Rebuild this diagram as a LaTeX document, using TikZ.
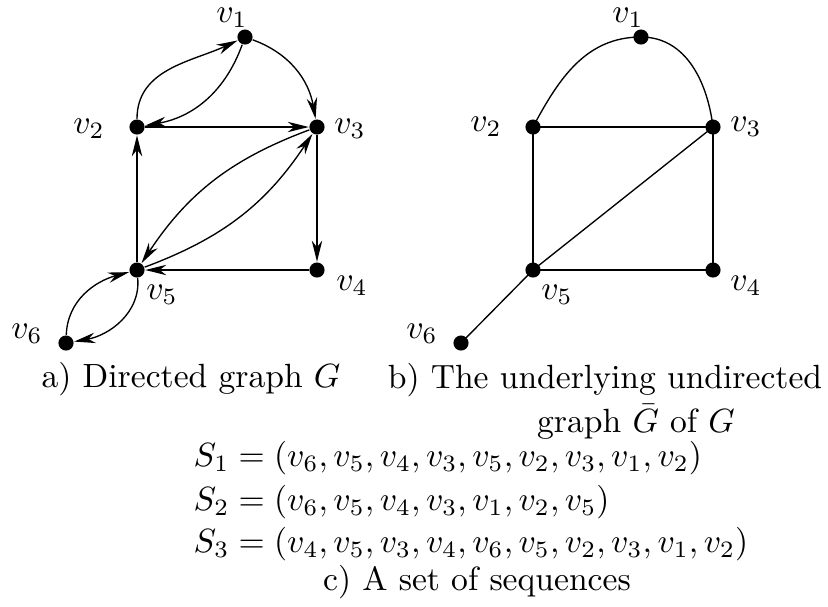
\documentclass[tikz,border=0pt]{standalone}
\usetikzlibrary{arrows.meta}
\begin{document}
\begin{tikzpicture}[x=0.2976pt,y=-0.2976pt,
  dot/.style={circle,fill=black,inner sep=0pt,minimum size=4.5pt},
  lbl/.style={inner sep=0pt},
  arr/.style={-{Stealth[length=6.3pt,width=3.1pt,inset=2pt]},line width=0.4pt},
  edge/.style={line width=0.4pt},
  txt/.style={inner sep=0pt,anchor=base}]
\useasboundingbox (0,0) rectangle (828,606);
% left graph
\node[dot] (a1) at (245,37) {};
\node[dot] (a2) at (137,127) {};
\node[dot] (a3) at (317,127) {};
\node[dot] (a4) at (317,270) {};
\node[dot] (a5) at (137,270) {};
\node[dot] (a6) at (66,343) {};
\node[lbl] (la1) at (232,18) {$v_1$};
\node[lbl] (la2) at (89,129) {$v_2$};
\node[lbl] (la3) at (350,129) {$v_3$};
\node[lbl] (la4) at (352,286) {$v_4$};
\node[lbl] (la5) at (162,295) {$v_5$};
\node[lbl] (la6) at (27,334) {$v_6$};
\draw[arr] (a2) to[out=90,in=205] (a1);
\draw[arr] (a1) to[out=250,in=10] (a2);
\draw[arr] (a1) to[out=-20,in=100] (a3);
\draw[arr] (a2) -- (a3);
\draw[arr] (a3) -- (a4);
\draw[arr] (a4) -- (a5);
\draw[arr] (a5) -- (a2);
\draw[arr] (a3) to[bend right=18] (a5);
\draw[arr] (a5) to[bend right=18] (a3);
\draw[arr] (a6) to[out=88,in=195] (a5);
\draw[arr] (a5) to[out=-85,in=10] (a6);
% right graph
\node[dot] (b1) at (641,37) {};
\node[dot] (b2) at (533,127) {};
\node[dot] (b3) at (713,127) {};
\node[dot] (b4) at (713,270) {};
\node[dot] (b5) at (533,270) {};
\node[dot] (b6) at (461,343) {};
\node[lbl] (lb1) at (628,18) {$v_1$};
\node[lbl] (lb2) at (486,127) {$v_2$};
\node[lbl] (lb3) at (746,127) {$v_3$};
\node[lbl] (lb4) at (746,286) {$v_4$};
\node[lbl] (lb5) at (557,295) {$v_5$};
\node[lbl] (lb6) at (422,334) {$v_6$};
\draw[edge] (b2.center) to[out=62,in=180] (b1.center);
\draw[edge] (b1.center) to[out=0,in=97] (b3.center);
\draw[edge] (b2.center) -- (b3.center);
\draw[edge] (b2.center) -- (b5.center);
\draw[edge] (b3.center) -- (b4.center);
\draw[edge] (b4.center) -- (b5.center);
\draw[edge] (b5.center) -- (b3.center);
\draw[edge] (b5.center) -- (b6.center);
% captions
\node[txt] (ca) at (191,387) {a) Directed graph $G$};
\node[txt] (cb1) at (605,388) {b) The underlying undirected};
\node[txt] (cb2) at (636,432) {graph $\bar{G}$ of $G$};
\node[txt,anchor=base west] (s1) at (193,466) {$S_1=(v_6,v_5,v_4,v_3,v_5,v_2,v_3,v_1,v_2)$};
\node[txt,anchor=base west] (s2) at (193,510) {$S_2=(v_6,v_5,v_4,v_3,v_1,v_2,v_5)$};
\node[txt,anchor=base west] (s3) at (193,552) {$S_3=(v_4,v_5,v_3,v_4,v_6,v_5,v_2,v_3,v_1,v_2)$};
\node[txt] (cc) at (477,590) {c) A set of sequences};
\end{tikzpicture}
\end{document}
